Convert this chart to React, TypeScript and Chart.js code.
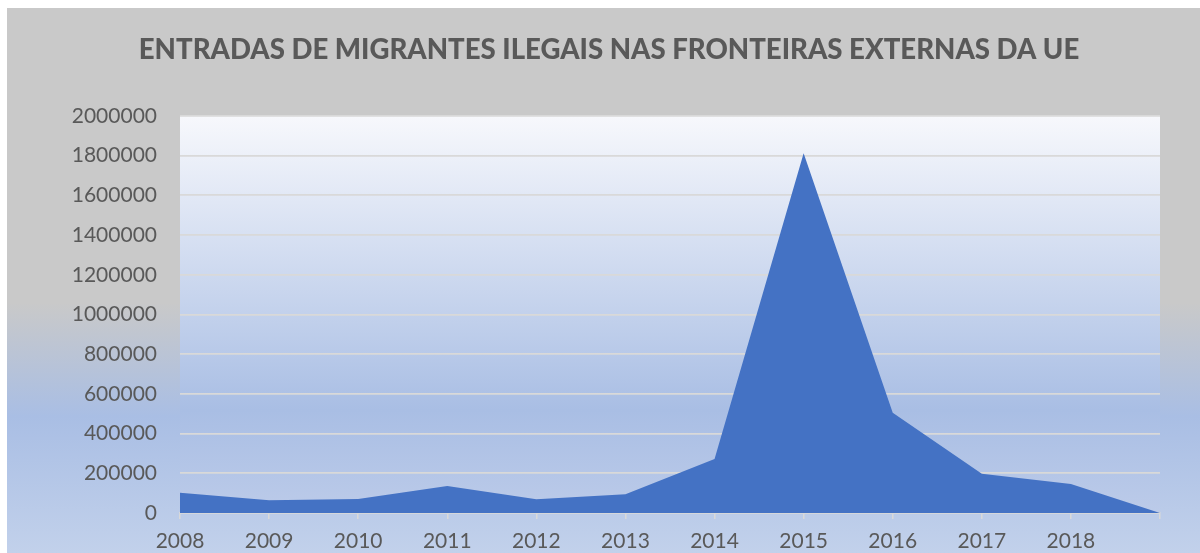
import React, { useEffect, useRef } from "react";
import { Chart, registerables } from "chart.js";

Chart.register(...registerables);

const TITLE = "ENTRADAS DE MIGRANTES ILEGAIS NAS FRONTEIRAS EXTERNAS DA UE";
const YEARS = ["2008", "2009", "2010", "2011", "2012", "2013", "2014", "2015", "2016", "2017", "2018", ""];
const ENTRIES = [102000, 64000, 70000, 136000, 69000, 94000, 272000, 1812000, 505000, 198000, 146000, 0];
const Y_MAX = 2000000;
const Y_STEP = 200000;

const FONT = "Lato, 'Open Sans', sans-serif";

const backgroundPlugin = {
  id: "bgPlugin",
  beforeDraw(chart: any) {
    const { ctx, width, height, chartArea } = chart;
    ctx.save();
    ctx.fillStyle = "#ffffff";
    ctx.fillRect(0, 0, width, height);
    const ox = 7, oy = 8;
    const g = ctx.createLinearGradient(0, oy, 0, height);
    g.addColorStop(0, "#C9C9C9");
    g.addColorStop(0.54, "#C9C9C9");
    g.addColorStop(0.75, "#A9BEE4");
    g.addColorStop(1, "#C2D1EB");
    ctx.fillStyle = g;
    ctx.fillRect(ox, oy, width - ox, height - oy);
    const { left, top, right, bottom } = chartArea;
    const pg = ctx.createLinearGradient(0, top, 0, bottom);
    pg.addColorStop(0, "#F7F8FC");
    pg.addColorStop(0.74, "#A9BEE4");
    pg.addColorStop(1, "#BCCBE9");
    ctx.fillStyle = pg;
    ctx.fillRect(left, top, right - left, bottom - top);
    ctx.fillStyle = "#595959";
    ctx.font = `900 27.6px ${FONT}`;
    ctx.textAlign = "center";
    ctx.textBaseline = "alphabetic";
    ctx.fillText(TITLE, 609, 59);
    ctx.restore();
  },
};

export default function App() {
  const ref = useRef<HTMLCanvasElement>(null);
  useEffect(() => {
    document.body.style.margin = "0";
    const chart = new Chart(ref.current as HTMLCanvasElement, {
      type: "line",
      data: {
        labels: YEARS,
        datasets: [
          {
            data: ENTRIES,
            backgroundColor: "#4472C4",
            borderWidth: 0,
            borderColor: "#4472C4",
            pointRadius: 0,
            fill: "origin",
            tension: 0,
          },
        ],
      },
      options: {
        animation: false,
        responsive: false,
        maintainAspectRatio: false,
        layout: { padding: { top: 116, right: 40, left: 0, bottom: 0 } },
        plugins: { legend: { display: false }, tooltip: { enabled: false }, title: { display: false } },
        scales: {
          x: {
            offset: false,
            grid: { drawOnChartArea: false, drawTicks: true, tickLength: 6, color: "#D9D9D9", lineWidth: 1.5 },
            border: { color: "#D9D9D9", width: 1.5 },
            ticks: { color: "#595959", font: { family: FONT, size: 21 }, padding: 10, maxRotation: 0, autoSkip: false },
            afterFit: (s: any) => { s.height = 40; },
          },
          y: {
            min: 0,
            max: Y_MAX,
            grid: { color: "#D9D9D9", lineWidth: 1.8, drawTicks: false },
            border: { display: false },
            ticks: {
              stepSize: Y_STEP,
              color: "#595959",
              font: { family: FONT, size: 21 },
              padding: 23,
              callback: (v: any) => String(v),
            },
            afterFit: (s: any) => { s.width = 180; },
          },
        },
      },
      plugins: [backgroundPlugin],
    });
    return () => chart.destroy();
  }, []);
  return <canvas ref={ref} width={1200} height={553} style={{ display: "block" }} />;
}
